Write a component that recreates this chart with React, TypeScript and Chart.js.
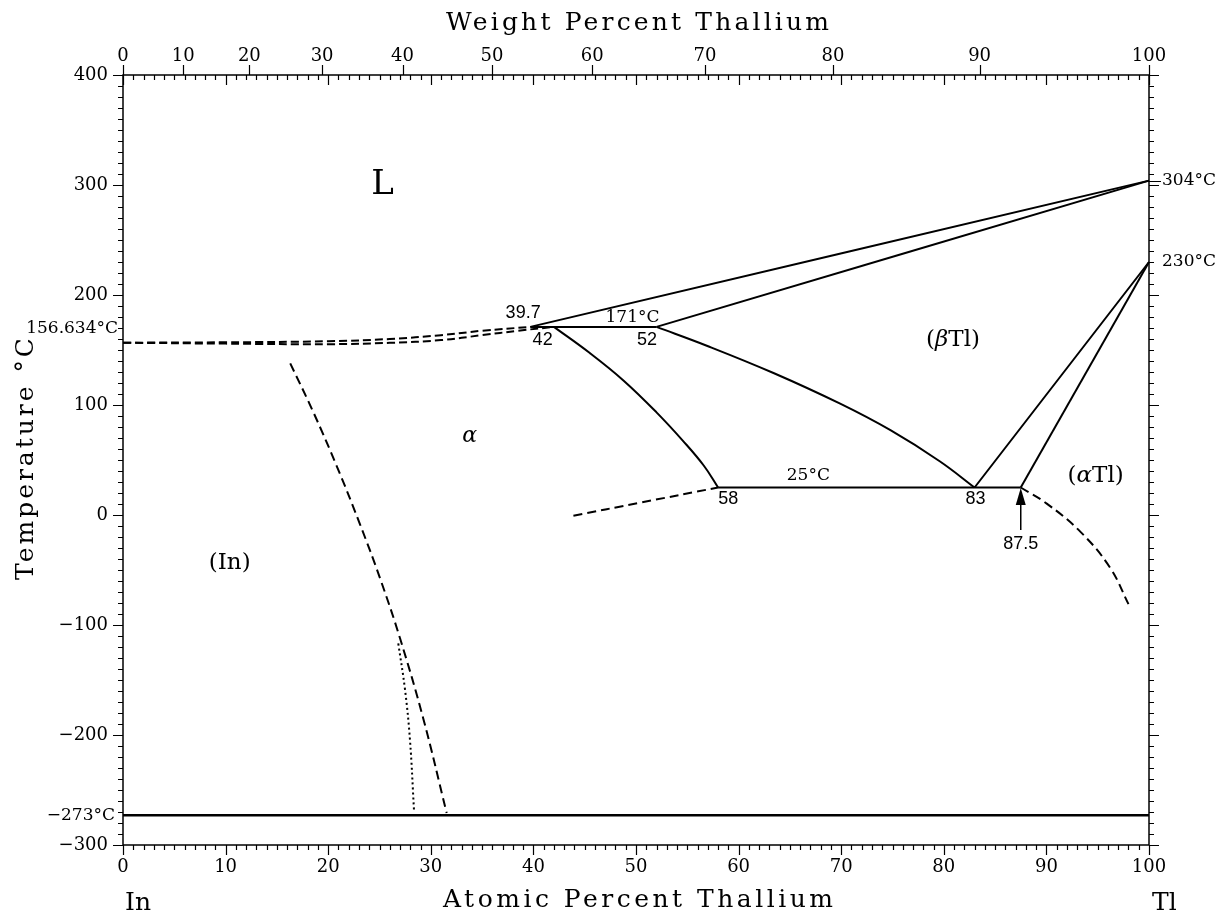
import React, { useEffect, useRef } from 'react';
import { Chart, registerables } from 'chart.js';

Chart.register(...registerables);

const SERIF = '"DejaVu Serif", serif';
const SANS = '"Liberation Sans", Arial, sans-serif';

// ---- axis data ----
const X_MIN = 0;
const X_MAX = 100;
const Y_MIN = -300;
const Y_MAX = 400;
const WT_TICK_LABELS = [0, 10, 20, 30, 40, 50, 60, 70, 80, 90, 100];
const M_TL = 204.38;
const M_IN = 114.82;

// ---- phase boundary series (x = at.% Tl, y = °C) ----
const liquidusDashed = [[0, 156.634], [10, 157], [20, 158], [26, 160], [31, 163.5], [35, 167.5], [39.7, 171]];
const solidusDashed = [[0, 156.634], [10, 155.8], [20, 155.3], [26, 156.5], [31, 159], [35, 163.5], [38.5, 167.5], [42, 171]];
const liquidusBeta = [[39.7, 171], [100, 304]];
const solidusBeta = [[52, 171], [100, 304]];
const peritectic171 = [[39.7, 171], [52, 171]];
const alphaBoundary = [[42, 171], [45.5, 147.2], [48.8, 122.1], [52, 93.3], [54.6, 67.2], [56.6, 45], [58, 25]];
const betaBoundary = [[52, 171], [56.9, 153.9], [63.4, 129.1], [69.9, 101.2], [74.8, 77.1], [79.6, 48.9], [83, 25]];
const eutectoid25 = [[58, 25], [87.5, 25]];
const betaTlLeft = [[83, 25], [100, 230]];
const betaTlRight = [[87.5, 25], [100, 230]];
const alphaLowDashed = [[43.9, -0.6], [50.4, 11.2], [58, 25]];
const alphaTlDashed = [[87.5, 25], [90, 10.6], [93.3, -15.1], [96.2, -47.8], [98, -81]];
const inSolvusDashed = [[16.3, 137.9], [18.55, 93.5], [20.83, 44.5], [23.1, -8.5], [25.05, -57.5], [27, -112.1], [29.27, -185.2], [31.55, -271]];
const inSolvusDotted = [[26.83, -116.7], [27.49, -159], [27.97, -204.5], [28.36, -268]];
const absoluteZero = [[0, -273], [100, -273]];
const arrowShaft = [[87.5, -13.6], [87.5, 12]];
const arrowTip = [87.5, 24.5];

const wtToAt = (w: number) => {
  const a = w / M_TL;
  const b = (100 - w) / M_IN;
  return (a / (a + b)) * 100;
};

const toPts = (arr: number[][]) => arr.map(([x, y]) => ({ x, y }));

type Seg = { t: string; f: string };
const f = (size: number, fam = SERIF, style = '') => `${style} ${size}px ${fam}`.trim();

const ANNOTATIONS: { segs: Seg[]; x: number; y: number }[] = [
  { segs: [{ t: 'L', f: f(34) }], x: 25.3, y: 300 },
  { segs: [{ t: '(In)', f: f(23) }], x: 10.4, y: -43.6 },
  { segs: [{ t: 'α', f: f(22, SERIF, 'italic') }], x: 33.8, y: 71.8 },
  { segs: [{ t: '(', f: f(23) }, { t: 'β', f: f(23, SERIF, 'italic') }, { t: 'Tl)', f: f(23) }], x: 80.9, y: 159 },
  { segs: [{ t: '(', f: f(23) }, { t: 'α', f: f(23, SERIF, 'italic') }, { t: 'Tl)', f: f(23) }], x: 94.8, y: 35.5 },
  { segs: [{ t: '39.7', f: f(18, SANS) }], x: 39.0, y: 183.2 },
  { segs: [{ t: '42', f: f(18, SANS) }], x: 40.9, y: 159.1 },
  { segs: [{ t: '171°C', f: f(17) }], x: 49.66, y: 179.5 },
  { segs: [{ t: '52', f: f(18, SANS) }], x: 51.07, y: 159.1 },
  { segs: [{ t: '25°C', f: f(17) }], x: 66.8, y: 35.5 },
  { segs: [{ t: '58', f: f(18, SANS) }], x: 59.0, y: 14.5 },
  { segs: [{ t: '83', f: f(18, SANS) }], x: 83.1, y: 14.5 },
  { segs: [{ t: '87.5', f: f(18, SANS) }], x: 87.5, y: -26.8 },
];

function drawRich(ctx: CanvasRenderingContext2D, segs: Seg[], cx: number, cy: number) {
  let total = 0;
  const widths = segs.map((s) => {
    ctx.font = s.f;
    const w = ctx.measureText(s.t).width;
    total += w;
    return w;
  });
  let x = cx - total / 2;
  ctx.textAlign = 'left';
  ctx.textBaseline = 'middle';
  segs.forEach((s, i) => {
    ctx.font = s.f;
    ctx.fillText(s.t, x, cy);
    x += widths[i];
  });
}

function drawSpaced(ctx: CanvasRenderingContext2D, text: string, x: number, y: number, width: number) {
  const anyCtx = ctx as any;
  anyCtx.letterSpacing = '0px';
  const w0 = ctx.measureText(text).width;
  const ls = (width - w0) / (text.length - 1);
  anyCtx.letterSpacing = `${ls}px`;
  ctx.textAlign = 'left';
  ctx.fillText(text, x, y);
  anyCtx.letterSpacing = '0px';
}

const decorPlugin = {
  id: 'phaseDecor',
  afterDraw(chart: any) {
    const ctx: CanvasRenderingContext2D = chart.ctx;
    const xs = chart.scales.x;
    const ys = chart.scales.y;
    const { left, right, top, bottom } = chart.chartArea;
    ctx.save();
    ctx.strokeStyle = '#000';
    ctx.fillStyle = '#000';

    // frame
    ctx.lineWidth = 1.5;
    ctx.strokeRect(left, top, right - left, bottom - top);

    // ticks
    ctx.lineWidth = 1.2;
    ctx.beginPath();
    for (let i = X_MIN; i <= X_MAX; i += 1) {
      const px = Math.round(xs.getPixelForValue(i)) + 0.5;
      const len = i % 10 === 0 ? 10 : 5;
      ctx.moveTo(px, bottom);
      ctx.lineTo(px, bottom + len);
      ctx.moveTo(px, top);
      ctx.lineTo(px, top + len);
    }
    WT_TICK_LABELS.forEach((w) => {
      const px = Math.round(xs.getPixelForValue(wtToAt(w))) + 0.5;
      ctx.moveTo(px, top);
      ctx.lineTo(px, top - 10);
    });
    for (let t = Y_MIN; t <= Y_MAX; t += 10) {
      const py = Math.round(ys.getPixelForValue(t)) + 0.5;
      const len = t % 100 === 0 ? 10 : 5;
      ctx.moveTo(left - len, py);
      ctx.lineTo(left, py);
      ctx.moveTo(right, py);
      ctx.lineTo(right + len, py);
    }
    const p304 = Math.round(ys.getPixelForValue(304)) + 0.5;
    ctx.moveTo(right, p304);
    ctx.lineTo(right + 12, p304);
    ctx.stroke();

    // arrow head
    const ax = xs.getPixelForValue(arrowTip[0]);
    const ay = ys.getPixelForValue(arrowTip[1]);
    ctx.beginPath();
    ctx.moveTo(ax, ay);
    ctx.lineTo(ax - 5, ay + 17);
    ctx.lineTo(ax + 5, ay + 17);
    ctx.closePath();
    ctx.fill();

    // special temperature labels
    ctx.font = f(17);
    ctx.textBaseline = 'middle';
    ctx.textAlign = 'right';
    ctx.fillText('156.634°C', left - 5, ys.getPixelForValue(156.634) - 14);
    ctx.fillText('\u2212273°C', left - 8, ys.getPixelForValue(-273));
    ctx.textAlign = 'left';
    ctx.fillText('304°C', right + 13, ys.getPixelForValue(304));
    ctx.fillText('230°C', right + 13, ys.getPixelForValue(230));

    // annotations
    ANNOTATIONS.forEach((a) => drawRich(ctx, a.segs, xs.getPixelForValue(a.x), ys.getPixelForValue(a.y)));

    // element labels
    ctx.font = f(25);
    ctx.textBaseline = 'alphabetic';
    ctx.textAlign = 'left';
    ctx.fillText('In', xs.getPixelForValue(0) + 2, 910);
    ctx.fillText('Tl', xs.getPixelForValue(100) + 3, 910);

    // axis titles
    ctx.font = f(25);
    drawSpaced(ctx, 'Atomic Percent Thallium', 443, 907, 390);
    drawSpaced(ctx, 'Weight Percent Thallium', 446, 30, 383);
    ctx.save();
    ctx.translate(33, 580);
    ctx.rotate(-Math.PI / 2);
    drawSpaced(ctx, 'Temperature °C', 0, 0, 242);
    ctx.restore();

    ctx.restore();
  },
};

const solid = (data: number[][], width = 2) => ({
  data: toPts(data),
  borderColor: '#000',
  borderWidth: width,
  pointRadius: 0,
  tension: 0.4,
  fill: false,
  clip: false,
});
const dashed = (data: number[][], dash = [9, 5], width = 2) => ({
  ...solid(data, width),
  borderDash: dash,
});

export default function App() {
  const ref = useRef<HTMLCanvasElement | null>(null);
  useEffect(() => {
    if (!ref.current) return;
    const chart = new Chart(ref.current, {
      type: 'line',
      data: {
        datasets: [
          dashed(liquidusDashed, [8, 4]),
          dashed(solidusDashed, [8, 4]),
          solid(liquidusBeta),
          solid(solidusBeta),
          solid(peritectic171),
          solid(alphaBoundary),
          solid(betaBoundary),
          solid(eutectoid25),
          solid(betaTlLeft),
          solid(betaTlRight),
          dashed(alphaLowDashed),
          dashed(alphaTlDashed),
          dashed(inSolvusDashed),
          dashed(inSolvusDotted, [2, 3]),
          solid(absoluteZero, 2.5),
          solid(arrowShaft, 1.5),
        ] as any,
      },
      plugins: [decorPlugin],
      options: {
        responsive: false,
        animation: false,
        events: [],
        parsing: true,
        layout: { padding: 0 },
        plugins: { legend: { display: false }, tooltip: { enabled: false } },
        scales: {
          x: {
            type: 'linear',
            position: 'bottom',
            min: X_MIN,
            max: X_MAX,
            grid: { display: false, drawTicks: false },
            border: { display: false },
            ticks: { stepSize: 10, color: '#000', font: { family: SERIF, size: 18 }, padding: 12, maxRotation: 0 },
            afterFit: (s: any) => { s.height = 71; },
          },
          x2: {
            type: 'linear',
            position: 'top',
            min: X_MIN,
            max: X_MAX,
            grid: { display: false, drawTicks: false },
            border: { display: false },
            afterBuildTicks: (s: any) => { s.ticks = WT_TICK_LABELS.map((w) => ({ value: wtToAt(w) })); },
            ticks: {
              autoSkip: false,
              color: '#000',
              font: { family: SERIF, size: 18 },
              padding: 8,
              maxRotation: 0,
              callback: (_v: any, i: number) => String(WT_TICK_LABELS[i]),
            },
            afterFit: (s: any) => { s.height = 75; },
          },
          y: {
            type: 'linear',
            position: 'left',
            min: Y_MIN,
            max: Y_MAX,
            grid: { display: false, drawTicks: false },
            border: { display: false },
            ticks: {
              stepSize: 100,
              color: '#000',
              font: { family: SERIF, size: 18 },
              padding: 15,
              callback: (v: any) => (v < 0 ? '\u2212' + Math.abs(v) : String(v)),
            },
            afterFit: (s: any) => { s.width = 123; },
          },
          y2: {
            type: 'linear',
            position: 'right',
            min: Y_MIN,
            max: Y_MAX,
            grid: { display: false, drawTicks: false },
            border: { display: false },
            ticks: { display: false },
            afterFit: (s: any) => { s.width = 74; },
          },
        },
      } as any,
    });
    return () => chart.destroy();
  }, []);

  return (
    <div style={{ position: 'absolute', left: 0, top: 0, width: 1223, height: 916, background: '#fff' }}>
      <canvas ref={ref} width={1223} height={916} />
    </div>
  );
}
